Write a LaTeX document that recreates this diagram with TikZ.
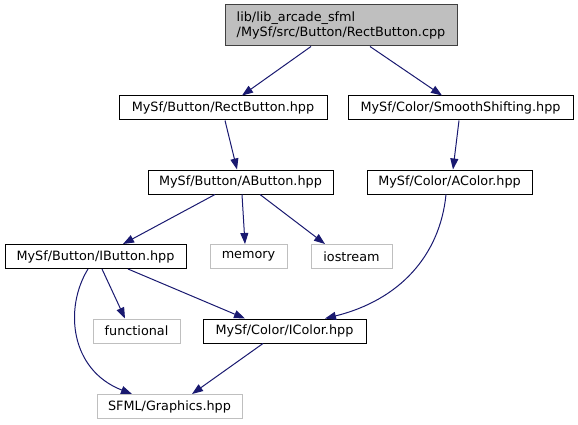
\documentclass[tikz,border=0pt]{standalone}
\usepackage{fontspec}
\setmainfont{DejaVu Sans}
\usetikzlibrary{arrows.meta}
\definecolor{edgeblue}{HTML}{191970}
\definecolor{extgray}{HTML}{BFBFBF}
\definecolor{rootborder}{HTML}{404040}
\tikzset{
  filebox/.style={draw=black, line width=1pt, fill=white, inner sep=0pt, minimum height=24pt,
    font=\fontsize{12.8}{15}\selectfont},
  extbox/.style={filebox, draw=extgray},
  rootbox/.style={filebox, draw=rootborder, fill=extgray, align=left, minimum height=41pt},
  dep/.style={draw=edgeblue, line width=1pt, -{Triangle[length=11pt,width=8pt]}, color=edgeblue}
}
\begin{document}
\begin{tikzpicture}[x=1pt,y=-1pt]
\useasboundingbox (0,0) rectangle (578,425);
\node[rootbox, minimum width=232pt] (root) at (341,25.5) {lib/lib\_arcade\_sfml\\/MySf/src/Button/RectButton.cpp};
\node[filebox, minimum width=208pt] (rect) at (223,108) {MySf/Button/RectButton.hpp};
\node[filebox, minimum width=225pt] (smooth) at (460.5,108) {MySf/Color/SmoothShifting.hpp};
\node[filebox, minimum width=185pt] (abtn) at (240.5,182) {MySf/Button/AButton.hpp};
\node[filebox, minimum width=165pt] (acol) at (449.5,182) {MySf/Color/AColor.hpp};
\node[filebox, minimum width=181pt] (ibtn) at (95.5,256.5) {MySf/Button/IButton.hpp};
\node[extbox, minimum width=77pt] (mem) at (248.5,256.5) {memory};
\node[extbox, minimum width=81pt] (ios) at (351.5,256.5) {iostream};
\node[extbox, minimum width=87pt] (func) at (136.5,331) {functional};
\node[filebox, minimum width=163pt] (icol) at (284.5,331) {MySf/Color/IColor.hpp};
\node[extbox, minimum width=145pt] (sfml) at (169.5,406.5) {SFML/Graphics.hpp};

\draw[dep] ([xshift=-30pt]root.south) -- ([xshift=19pt]rect.north);
\draw[dep] ([xshift=29pt]root.south) -- ([xshift=-18.5pt]smooth.north);
\draw[dep] ([xshift=2pt]rect.south) -- ([xshift=-3.5pt]abtn.north);
\draw[dep] ([xshift=-1.5pt]smooth.south) -- ([xshift=3.5pt]acol.north);
\draw[dep] ([xshift=-25.5pt]abtn.south) -- ([xshift=27.5pt]ibtn.north);
\draw[dep] ([xshift=1.5pt]abtn.south) -- ([xshift=-3.5pt]mem.north);
\draw[dep] ([xshift=19.5pt]abtn.south) -- ([xshift=-26.5pt]ios.north);
\draw[dep] ([xshift=6.5pt]ibtn.south) -- ([xshift=-11.5pt]func.north);
\draw[dep] ([xshift=32.5pt]ibtn.south) -- ([xshift=-39.5pt]icol.north);
\draw[dep] ([xshift=-7.5pt]ibtn.south) .. controls (64,308) and (70,370) .. ([xshift=-37.5pt]sfml.north);
\draw[dep] ([xshift=-3.5pt]acol.south) .. controls (440,255) and (400,300) .. ([xshift=40.5pt]icol.north);
\draw[dep] ([xshift=-21.5pt]icol.south) -- ([xshift=22.5pt]sfml.north);
\end{tikzpicture}
\end{document}
